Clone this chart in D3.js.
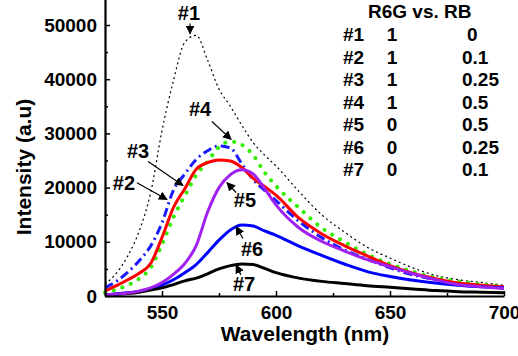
<!DOCTYPE html>
<html>
<head>
<meta charset="utf-8">
<script src="https://cdn.jsdelivr.net/npm/d3@7"></script>
<style>
  body { margin: 0; background: #fff; }
  text { font-family: "Liberation Sans", Arial, sans-serif; font-weight: bold; fill: #000; }
</style>
</head>
<body>
<div id="app"></div>
<script>
// wavelength grid (nm)
const wavelengths = [525, 530, 535, 540, 545, 550, 555, 560, 565, 570, 575, 580, 585, 590, 595, 600,
                     610, 620, 630, 640, 650, 660, 670, 680, 690, 700];

// intensity of each sample
const s1 = [2200, 4200, 7400, 12000, 19000, 30500, 39700, 46800, 48100, 43500, 38200, 35000, 31500, 28300, 26000, 24000,
            19300, 15000, 11800, 9000, 7000, 5200, 3800, 3000, 2500, 2000];
const s2 = [1500, 2700, 4400, 6500, 9200, 13500, 19500, 22500, 25200, 26800, 27700, 27300, 24400, 21500, 19500, 17600,
            13800, 10800, 8500, 6800, 5200, 3900, 3000, 2300, 1800, 1500];
const s3 = [900, 1900, 3000, 4200, 6000, 10800, 16300, 19800, 23400, 24600, 25100, 24900, 23700, 21700, 20200, 18600,
            14400, 11500, 9300, 7400, 5600, 4200, 3200, 2400, 2000, 1700];
const s4 = [600, 1200, 2000, 3200, 5200, 9500, 14500, 18500, 22300, 24800, 27500, 28500, 27900, 26000, 22800, 20300,
            16300, 12600, 10000, 7700, 5900, 4500, 3400, 2700, 2200, 1700];
const s5 = [200, 350, 550, 900, 1500, 2500, 4000, 6000, 9300, 15500, 20000, 22400, 23300, 22500, 19800, 16800,
            12600, 10100, 8300, 6700, 5400, 4100, 3000, 2100, 1700, 1400];
const s6 = [200, 400, 600, 900, 1300, 2000, 3000, 4300, 5800, 8000, 10300, 12200, 13100, 12900, 12000, 11200,
            9200, 7500, 5900, 4500, 3600, 2900, 2400, 2000, 1700, 1500];
const s7 = [200, 300, 450, 700, 1100, 1500, 2100, 2800, 3300, 4100, 5000, 5600, 5900, 5800, 5100, 4300,
            3300, 2700, 2300, 1900, 1600, 1300, 1000, 800, 700, 600];

const xTicks = [550, 600, 650, 700],
      xMinor = [575, 625, 675],
      yTicks = [0, 10000, 20000, 30000, 40000, 50000],
      yMinor = [5000, 15000, 25000, 35000, 45000];

// table in the upper right corner
const tableHead = "R6G vs. RB",
      sampleNames = ["#1", "#2", "#3", "#4", "#5", "#6", "#7"],
      r6g = ["1", "1", "1", "1", "0", "0", "0"],
      rb = ["0", "0.1", "0.25", "0.5", "0.5", "0.25", "0.1"];

// labels with arrows: [name, label wl, label value, arrow from wl, value, arrow to wl, value]
const notes = [
  ["#1", 561.8, 50900, 562.3, 50300, 562.3, 48400],
  ["#4", 566.7, 33300, 571.9, 32200, 580.3, 28900],
  ["#3", 539.5, 25500, 543.9, 24800, 559.2, 20400],
  ["#2", 533.3, 19600, 539.0, 20900, 552.2, 17800],
  ["#5", 586.4, 16500, 582.5, 19100, 578.5, 20900],
  ["#6", 589.5, 7400, 585.5, 10600, 582.5, 12800],
  ["#7", 586.0, 900, 584.6, 3900, 582.5, 5700]
];

const width = 518, height = 356,
      margin = { top: -1, right: 14, bottom: 60, left: 105 };

const series = [
  { v: s1, color: "#000", w: 1.2, dash: "2,3", cap: "butt" },
  { v: s2, color: "#1a1aff", w: 3, dash: "9,4,2,4", cap: "butt" },
  { v: s3, color: "#ff0000", w: 3, dash: null, cap: "butt" },
  { v: s4, color: "#33ee00", w: 4, dash: "0.1,9", cap: "round" },
  { v: s5, color: "#a020f0", w: 3, dash: null, cap: "butt" },
  { v: s6, color: "#0000ff", w: 3, dash: null, cap: "butt" },
  { v: s7, color: "#000", w: 3, dash: null, cap: "butt" }
];

const x = d3.scaleLinear().domain([525, 700]).range([margin.left, width - margin.right - 0]),
      y = d3.scaleLinear().domain([0, 54800]).range([height - margin.bottom, margin.top]);

const svg = d3.select("#app")
.append("svg")
  .attr("width", width)
  .attr("height", height);

/* curves */
const line = d3.line()
  .x((d, i) => x(wavelengths[i]))
  .y(d => y(d))
  .curve(d3.curveMonotoneX);

// draw from the back: #1 first, #7 last
const order = [0, 1, 3, 2, 5, 6, 4];
svg.append("g")
.selectAll("path")
.data(order.map(i => series[i]))
.enter()
.append("path")
  .attr("d", d => line(d.v))
  .attr("fill", "none")
  .attr("stroke", d => d.color)
  .attr("stroke-width", d => d.w)
  .attr("stroke-linecap", d => d.cap)
  .attr("stroke-dasharray", d => d.dash);

/* axes, ticks point inward */
const xAxis = svg.append("g")
  .attr("transform", `translate(0,${y(0)})`)
  .call(d3.axisBottom(x).tickValues(xTicks).tickSizeInner(-5).tickSizeOuter(0).tickPadding(10).tickFormat(d3.format("d")));
svg.append("g")
  .attr("transform", `translate(0,${y(0)})`)
  .call(d3.axisBottom(x).tickValues(xMinor).tickSizeInner(-3).tickSizeOuter(0).tickFormat(""))
  .select(".domain").remove();

const yAxis = svg.append("g")
  .attr("transform", `translate(${x(525)},0)`)
  .call(d3.axisLeft(y).tickValues(yTicks).tickSizeInner(-5).tickSizeOuter(0).tickPadding(8).tickFormat(d3.format("d")));
svg.append("g")
  .attr("transform", `translate(${x(525)},0)`)
  .call(d3.axisLeft(y).tickValues(yMinor).tickSizeInner(-3).tickSizeOuter(0).tickFormat(""))
  .select(".domain").remove();

svg.selectAll(".domain").attr("stroke-width", 2.2);
svg.selectAll(".tick line").attr("stroke-width", 1.5);
svg.selectAll(".tick text")
  .style("font-size", "19px")
  .style("font-family", "'Liberation Sans', Arial, sans-serif")
  .style("font-weight", "bold");

/* axis titles */
svg.append("text")
  .attr("x", 305).attr("y", 341)
  .attr("text-anchor", "middle")
  .style("font-size", "21px")
  .text("Wavelength (nm)");

svg.append("text")
  .attr("transform", "translate(31,167) rotate(-90)")
  .attr("text-anchor", "middle")
  .style("font-size", "21px")
  .text("Intensity (a.u)");

/* annotations */
svg.append("defs").append("marker")
  .attr("id", "arr")
  .attr("viewBox", "0 0 10 10")
  .attr("refX", 9).attr("refY", 5)
  .attr("markerWidth", 9).attr("markerHeight", 9)
  .attr("markerUnits", "userSpaceOnUse")
  .attr("orient", "auto")
.append("path")
  .attr("d", "M0,0 L10,5 L0,10 z")
  .attr("fill", "#000");

const ann = svg.append("g");
ann.selectAll("line")
.data(notes)
.enter()
.append("line")
  .attr("x1", d => x(d[3])).attr("y1", d => y(d[4]))
  .attr("x2", d => x(d[5])).attr("y2", d => y(d[6]))
  .attr("stroke", "#000")
  .attr("stroke-width", 1.2)
  .attr("marker-end", "url(#arr)");

ann.selectAll("text")
.data(notes)
.enter()
.append("text")
  .attr("x", d => x(d[1]))
  .attr("y", d => y(d[2]))
  .attr("text-anchor", "middle")
  .style("font-size", "20px")
  .text(d => d[0]);

/* table */
const tbl = svg.append("g").style("font-size", "19px");
tbl.append("text").attr("x", 368).attr("y", 18).text(tableHead);
const rows = tbl.selectAll("g.row")
.data(sampleNames)
.enter()
.append("g")
  .attr("transform", (d, i) => `translate(0,${41 + i * 22.5})`);
rows.append("text").attr("x", 343).text(d => d);
rows.append("text").attr("x", 392).attr("text-anchor", "middle").text((d, i) => r6g[i]);
rows.append("text").attr("x", (d, i) => rb[i] === "0" ? 467 : 462).text((d, i) => rb[i]);
</script>
</body>
</html>
